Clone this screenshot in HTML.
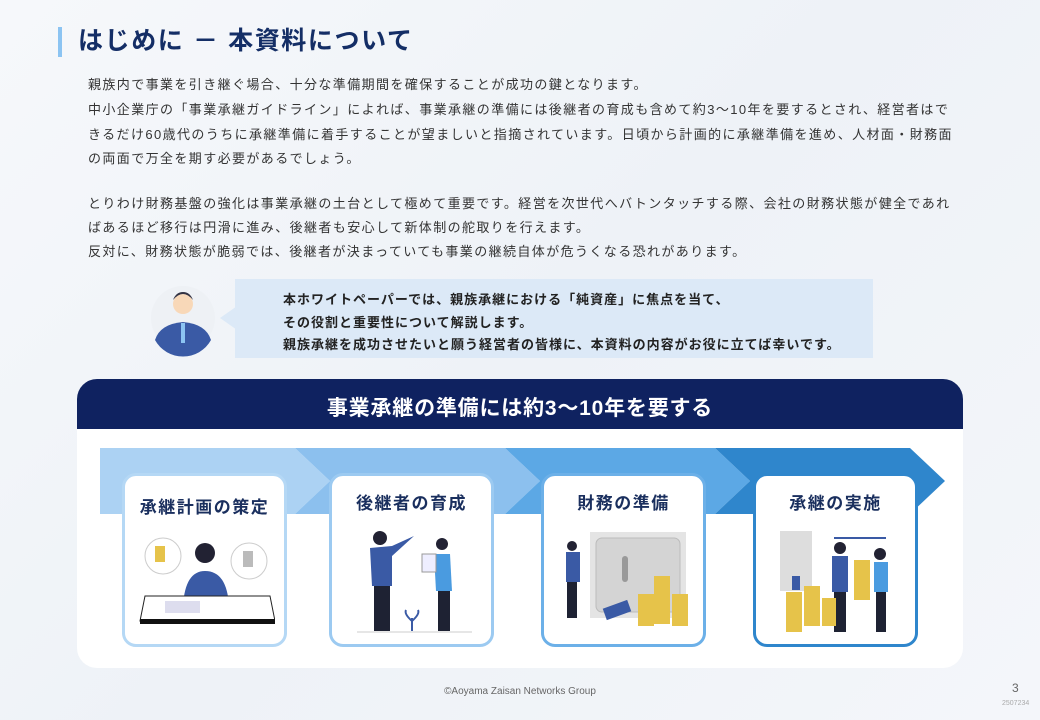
<!DOCTYPE html>
<html><head><meta charset="utf-8"><style>
body{margin:0;width:1040px;height:720px;overflow:hidden;background:linear-gradient(135deg,#f6f8fb 0%,#eef2f7 50%,#f4f6fa 100%);font-family:"Liberation Sans","Noto Sans CJK JP",sans-serif;position:relative}
.abs{position:absolute}
.p{left:88px;font-size:13px;color:#333;letter-spacing:1.4px;white-space:nowrap;line-height:16px}
.sp{left:283px;font-size:13px;color:#222;font-weight:bold;white-space:nowrap;letter-spacing:1px}
.box{position:absolute;top:473px;width:159px;height:168px;background:#fff;border-radius:14px;border:3px solid}
.lab{position:absolute;top:13px;width:100%;text-align:center;font-size:17px;font-weight:bold;color:#1a2f5e;letter-spacing:1.5px;white-space:nowrap}
</style></head><body>
<div class="abs" style="left:58px;top:27px;width:4px;height:30px;background:#8cc4f2"></div>
<div class="abs" style="left:78px;top:26px;font-size:25px;font-weight:bold;color:#142e66;line-height:30px;white-space:nowrap;letter-spacing:1.6px">はじめに － 本資料について</div>

<div class="abs p" style="top:77px">親族内で事業を引き継ぐ場合、十分な準備期間を確保することが成功の鍵となります。</div>
<div class="abs p" style="top:102px">中小企業庁の「事業承継ガイドライン」によれば、事業承継の準備には後継者の育成も含めて約3〜10年を要するとされ、経営者はで</div>
<div class="abs p" style="top:127px">きるだけ60歳代のうちに承継準備に着手することが望ましいと指摘されています。日頃から計画的に承継準備を進め、人材面・財務面</div>
<div class="abs p" style="top:151px">の両面で万全を期す必要があるでしょう。</div>
<div class="abs p" style="top:196px">とりわけ財務基盤の強化は事業承継の土台として極めて重要です。経営を次世代へバトンタッチする際、会社の財務状態が健全であれ</div>
<div class="abs p" style="top:220px">ばあるほど移行は円滑に進み、後継者も安心して新体制の舵取りを行えます。</div>
<div class="abs p" style="top:244px">反対に、財務状態が脆弱では、後継者が決まっていても事業の継続自体が危うくなる恐れがあります。</div>

<svg class="abs" style="left:0;top:0" width="1040" height="720">
<polygon points="220,318 240,304 240,332" fill="#dce9f7"/>
<rect x="235" y="279" width="638" height="79" fill="#dce9f7"/>
<circle cx="183" cy="318" r="32" fill="#eef1f5"/>
<path d="M155,340 Q160,324 183,322 Q206,324 211,340 A32,32 0 0 1 155,340Z" fill="#3a5aa5"/>
<circle cx="183" cy="304" r="10" fill="#f8d8b8"/>
<path d="M173,300 Q183,288 193,300 Q190,292 183,292 Q176,292 173,300Z" fill="#334"/>
<rect x="181" y="323" width="4" height="20" fill="#8cc4f2"/>
<rect x="77" y="379" width="886" height="289" rx="20" fill="#fff"/>
<path d="M97,379 H943 A20,20 0 0 1 963,399 V429 H77 V399 A20,20 0 0 1 97,379Z" fill="#0f2260"/>
<polygon points="100,448 295,448 330,481 295,514 100,514" fill="#acd2f3"/>
<polygon points="295,448 505,448 540,481 505,514 295,514 330,481" fill="#8cc0ee"/>
<polygon points="505,448 715,448 750,481 715,514 505,514 540,481" fill="#5ca8e5"/>
<polygon points="715,448 910,448 945,481 910,514 715,514 750,481" fill="#2f86cc"/>
</svg>
<div class="abs" style="left:77px;top:392px;width:886px;text-align:center;color:#fff;font-size:21px;font-weight:bold;letter-spacing:0.8px">事業承継の準備には約3〜10年を要する</div>

<div class="abs sp" style="top:289px">本ホワイトペーパーでは、親族承継における「純資産」に焦点を当て、</div>
<div class="abs sp" style="top:312px">その役割と重要性について解説します。</div>
<div class="abs sp" style="top:334px">親族承継を成功させたいと願う経営者の皆様に、本資料の内容がお役に立てば幸いです。</div>

<div class="box" style="left:122px;border-color:#b5d8f5"><div class="lab" style="top:17px">承継計画の策定</div>
<svg class="abs" style="left:10px;top:55px" width="140" height="100"><circle cx="28" cy="25" r="18" fill="none" stroke="#ccc"/><circle cx="114" cy="30" r="18" fill="none" stroke="#ccc"/><rect x="20" y="15" width="10" height="16" fill="#e6c34a"/><circle cx="70" cy="22" r="10" fill="#223"/><path d="M48,75 Q50,40 70,40 Q92,40 94,75Z" fill="#3a5aa5"/><polygon points="10,65 135,65 140,90 5,90" fill="#fff" stroke="#222"/><rect x="5" y="88" width="135" height="5" fill="#111"/><rect x="30" y="70" width="35" height="12" fill="#dde"/><rect x="108" y="20" width="10" height="16" fill="#bbb"/></svg></div>
<div class="box" style="left:329px;border-color:#9ccaf1"><div class="lab">後継者の育成</div>
<svg class="abs" style="left:10px;top:50px" width="140" height="110"><circle cx="38" cy="12" r="7" fill="#223"/><path d="M28,22 L50,20 L72,10 L50,30 L50,60 L30,60Z" fill="#3a5aa5"/><rect x="32" y="60" width="16" height="45" fill="#1e2233"/><circle cx="100" cy="18" r="6" fill="#223"/><path d="M92,28 L108,28 L110,65 L94,65Z" fill="#4a9be0"/><rect x="96" y="65" width="12" height="40" fill="#1e2233"/><rect x="80" y="28" width="14" height="18" fill="#eef" stroke="#999"/><path d="M70,105 V92 M70,95 Q62,88 64,84 M70,95 Q78,88 76,84" stroke="#3a5aa5" stroke-width="2" fill="none"/><line x1="15" y1="106" x2="130" y2="106" stroke="#ccc"/></svg></div>
<div class="box" style="left:541px;border-color:#6cb0e8"><div class="lab">財務の準備</div>
<svg class="abs" style="left:10px;top:50px" width="140" height="110"><rect x="36" y="6" width="96" height="86" fill="#e4e4e4"/><rect x="42" y="12" width="84" height="74" rx="6" fill="#d4d4d4" stroke="#bbb"/><rect x="68" y="30" width="6" height="26" rx="3" fill="#999"/><circle cx="18" cy="20" r="5" fill="#223"/><rect x="12" y="26" width="14" height="30" fill="#3a5aa5"/><rect x="13" y="56" width="10" height="36" fill="#1e2233"/><rect x="100" y="50" width="16" height="48" fill="#e6c34a"/><rect x="118" y="68" width="16" height="32" fill="#e6c34a"/><rect x="84" y="68" width="16" height="32" fill="#e6c34a"/><rect x="50" y="78" width="26" height="12" fill="#3a5aa5" transform="rotate(-20 63 84)"/></svg></div>
<div class="box" style="left:753px;border-color:#2f86cc"><div class="lab">承継の実施</div>
<svg class="abs" style="left:10px;top:50px" width="140" height="110"><rect x="14" y="5" width="32" height="60" fill="#ddd"/><rect x="26" y="50" width="8" height="14" fill="#3a5aa5"/><line x1="68" y1="12" x2="120" y2="12" stroke="#3a5aa5" stroke-width="2"/><circle cx="74" cy="22" r="6" fill="#223"/><rect x="66" y="30" width="16" height="36" fill="#3a5aa5"/><rect x="68" y="66" width="12" height="40" fill="#1e2233"/><circle cx="114" cy="28" r="6" fill="#223"/><rect x="108" y="36" width="14" height="30" fill="#4a9be0"/><rect x="110" y="66" width="10" height="40" fill="#1e2233"/><rect x="88" y="34" width="16" height="40" fill="#e6c34a"/><rect x="20" y="66" width="16" height="40" fill="#e6c34a"/><rect x="38" y="60" width="16" height="40" fill="#e6c34a"/><rect x="56" y="72" width="14" height="28" fill="#e6c34a"/></svg></div>

<div class="abs" style="left:0;top:686px;width:1040px;text-align:center;font-size:10px;color:#666">©Aoyama Zaisan Networks Group</div>
<div class="abs" style="left:1012px;top:681px;font-size:12px;color:#666">3</div>
<div class="abs" style="left:1002px;top:700px;font-size:7px;color:#aaa">2507234</div>
</body></html>
